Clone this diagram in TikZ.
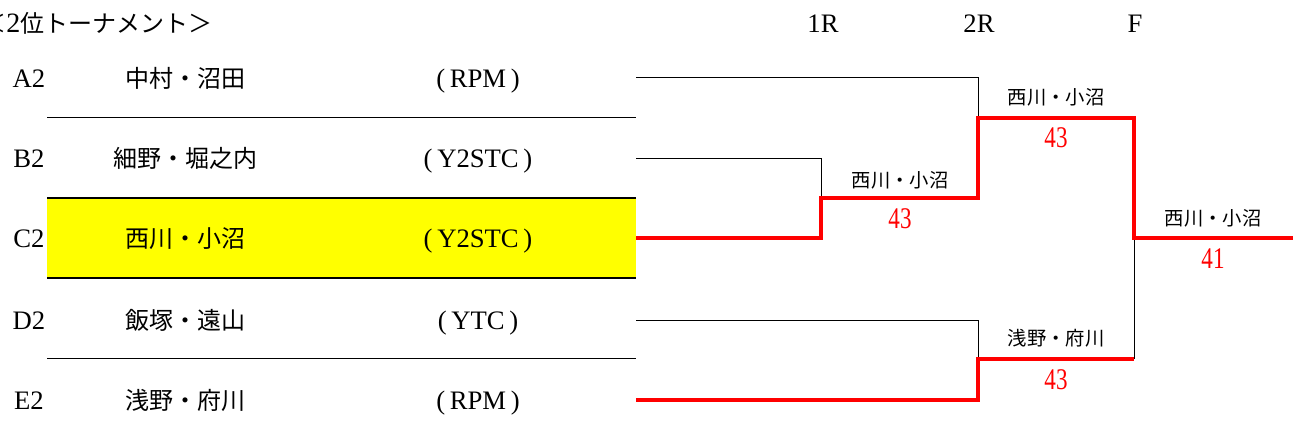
\documentclass[tikz,border=0pt]{standalone}
\usepackage{fontspec}
\usepackage{graphicx}
\setmainfont{Liberation Serif}
\newfontfamily\jp{Noto Sans CJK JP}
\definecolor{winred}{HTML}{FF0000}
\definecolor{hilite}{HTML}{FFFF00}
\tikzset{
  lat/.style={anchor=base,inner sep=0pt,font=\fontsize{20pt}{22pt}\selectfont},
  nm/.style={anchor=base,inner sep=0pt,font=\jp\fontsize{18pt}{20pt}\selectfont},
  ttl/.style={anchor=base west,inner sep=0pt,font=\fontsize{18pt}{20pt}\selectfont},
  wn/.style={anchor=base,inner sep=0pt,font=\jp\fontsize{14.5pt}{16pt}\selectfont},
  sc/.style={anchor=base,inner sep=0pt,text=winred,font=\fontsize{22.5pt}{24pt}\selectfont},
  sep/.style={line width=1pt,black},
  thin/.style={line width=0.75pt,black},
  win/.style={line width=3pt,winred,line join=miter}
}
\newcommand{\tm}[1]{(\kern3.5pt #1\kern3.5pt)}
\newcommand{\nar}[1]{\scalebox{0.77}[1]{#1}}
\begin{document}
\begin{tikzpicture}[x=0.75pt,y=-0.75pt]
\useasboundingbox (0,0) rectangle (1293,436);
% highlight
\fill[hilite] (47,198) rectangle (636,278);
% separators
\draw[sep] (47,117.5) -- (636,117.5);
\draw[sep] (47,198) -- (636,198);
\draw[sep] (47,278) -- (636,278);
\draw[sep] (47,358.5) -- (636,358.5);
% title and headers
\node[ttl] (title) at (-18,32) {{\jp ＜}{\fontsize{21pt}{22pt}\selectfont 2}{\jp 位トーナメント＞}};
\node[lat] (h1) at (823,32) {1R};
\node[lat] (h2) at (979,32) {2R};
\node[lat] (h3) at (1135,32) {F};
% rows
\node[lat] (la) at (29,87) {A2};
\node[lat] (lb) at (29,167) {B2};
\node[lat] (lc) at (29,247) {C2};
\node[lat] (ld) at (29,329) {D2};
\node[lat] (le) at (29,409) {E2};
\node[nm] (na) at (185,87) {中村・沼田};
\node[nm] (nb) at (185,167) {細野・堀之内};
\node[nm] (nc) at (185,247) {西川・小沼};
\node[nm] (nd) at (185,329) {飯塚・遠山};
\node[nm] (ne) at (185,409) {浅野・府川};
\node[lat] (ta) at (478,87) {\tm{RPM}};
\node[lat] (tb) at (478,167) {\tm{Y2STC}};
\node[lat] (tc) at (478,247) {\tm{Y2STC}};
\node[lat] (td) at (478,329) {\tm{YTC}};
\node[lat] (te) at (478,409) {\tm{RPM}};
% bracket coordinates
\coordinate (ea) at (636,77);
\coordinate (eb) at (636,158);
\coordinate (ec) at (636,238);
\coordinate (ed) at (636,320);
\coordinate (ee) at (636,400);
\coordinate (m1) at (821,198);
\coordinate (m2) at (978,118);
\coordinate (m3) at (978,359);
\coordinate (fa) at (1134,238);
\coordinate (fe) at (1293,238);
% losers (thin)
\draw[thin] (ea) -| (m2);
\draw[thin] (eb) -| (m1);
\draw[thin] (ed) -| (m3);
\draw[thin] (fa) -- (fa |- m3);
% winners (red)
\draw[win] (ec) -| (m1) -- (m1 -| m2) -- (m2) -| (fa) -- (fe);
\draw[win] (ee) -| (m3) -- (m3 -| fa);
% results
\node[wn] (w1) at (900,187) {西川・小沼};
\node[sc] (s1) at (900,228) {\nar{43}};
\node[wn] (w2) at (1056,104) {西川・小沼};
\node[sc] (s2) at (1056,147) {\nar{43}};
\node[wn] (w3) at (1056,345) {浅野・府川};
\node[sc] (s3) at (1056,389) {\nar{43}};
\node[wn] (w4) at (1213,225) {西川・小沼};
\node[sc] (s4) at (1213,268) {\nar{41}};
\end{tikzpicture}
\end{document}
